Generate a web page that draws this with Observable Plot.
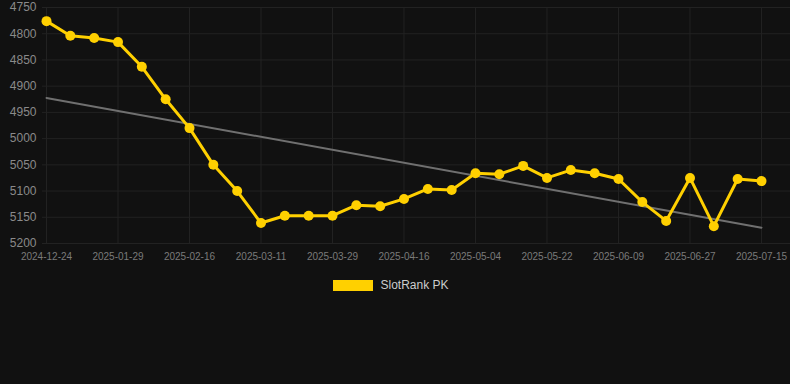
<!DOCTYPE html>
<html>
<head>
<meta charset="utf-8">
<script src="https://cdn.jsdelivr.net/npm/d3@7"></script>
<script src="https://cdn.jsdelivr.net/npm/@observablehq/plot@0.6"></script>
<style>
  html, body { margin: 0; padding: 0; background: #111111; }
  #chart { width: 790px; }
  .legend { display: flex; justify-content: center; align-items: center; height: 30px; padding-right: 8px;
    font-family: "Liberation Sans", Arial, Helvetica, sans-serif; font-size: 12px; color: #cccccc; }
  .legend .sw { width: 40px; height: 11px; background: #FFD000; margin-right: 7px; }
</style>
</head>
<body>
<div id="chart"></div>
<script>
const dates = [
  "2024-12-24","2025-01-11","2025-01-23","2025-01-29","2025-02-04","2025-02-10",
  "2025-02-16","2025-02-23","2025-03-03","2025-03-11","2025-03-17","2025-03-23",
  "2025-03-29","2025-04-04","2025-04-10","2025-04-16","2025-04-22","2025-04-28",
  "2025-05-04","2025-05-10","2025-05-16","2025-05-22","2025-05-28","2025-06-03",
  "2025-06-09","2025-06-15","2025-06-21","2025-06-27","2025-07-03","2025-07-09",
  "2025-07-15"
];
const ranks = [
  4776, 4804, 4808, 4816, 4863, 4925,
  4980, 5050, 5100, 5161, 5147, 5147,
  5147, 5127, 5129, 5115, 5096, 5098,
  5066, 5068, 5052, 5075, 5060, 5066,
  5077, 5121, 5157, 5075, 5167, 5077,
  5081
];
const yTicks = [4750, 4800, 4850, 4900, 4950, 5000, 5050, 5100, 5150, 5200];
const xTickIdx = [0, 3, 6, 9, 12, 15, 18, 21, 24, 27, 30];
const seriesName = "SlotRank PK";

const data = ranks.map((v, i) => ({i, date: dates[i], v}));

const font = "'Liberation Sans', Arial, Helvetica, sans-serif";
const chart = Plot.plot({
  width: 790,
  height: 270,
  marginLeft: 42,
  marginRight: 0,
  marginTop: 7,
  marginBottom: 27,
  style: {background: "#111111", color: "#888888", fontFamily: font},
  x: {type: "linear", domain: [-0.168, 31.217]},
  y: {domain: [4750, 5200], reverse: true},
  marks: [
    Plot.gridX(xTickIdx, {stroke: "#222222", strokeOpacity: 1}),
    Plot.gridY(yTicks, {stroke: "#222222", strokeOpacity: 1}),
    Plot.axisX(xTickIdx, {tickFormat: i => dates[i], tickSize: 0, tickPadding: 9, fontSize: 10, fill: "#7a7a7a", label: null}),
    Plot.axisY(yTicks, {tickFormat: d => String(d), tickSize: 0, tickPadding: 6, fontSize: 12, fill: "#8a8a8a", label: null}),
    Plot.linearRegressionY(data, {x: "i", y: "v", stroke: "#707070", strokeWidth: 2, ci: 0}),
    Plot.line(data, {x: "i", y: "v", stroke: "#FFD000", strokeWidth: 3}),
    Plot.dot(data, {x: "i", y: "v", r: 5, fill: "#FFD000"})
  ]
});
document.getElementById("chart").appendChild(chart);

const legend = document.createElement("div");
legend.className = "legend";
legend.innerHTML = `<span class="sw"></span><span>${seriesName}</span>`;
document.getElementById("chart").appendChild(legend);
</script>
</body>
</html>
